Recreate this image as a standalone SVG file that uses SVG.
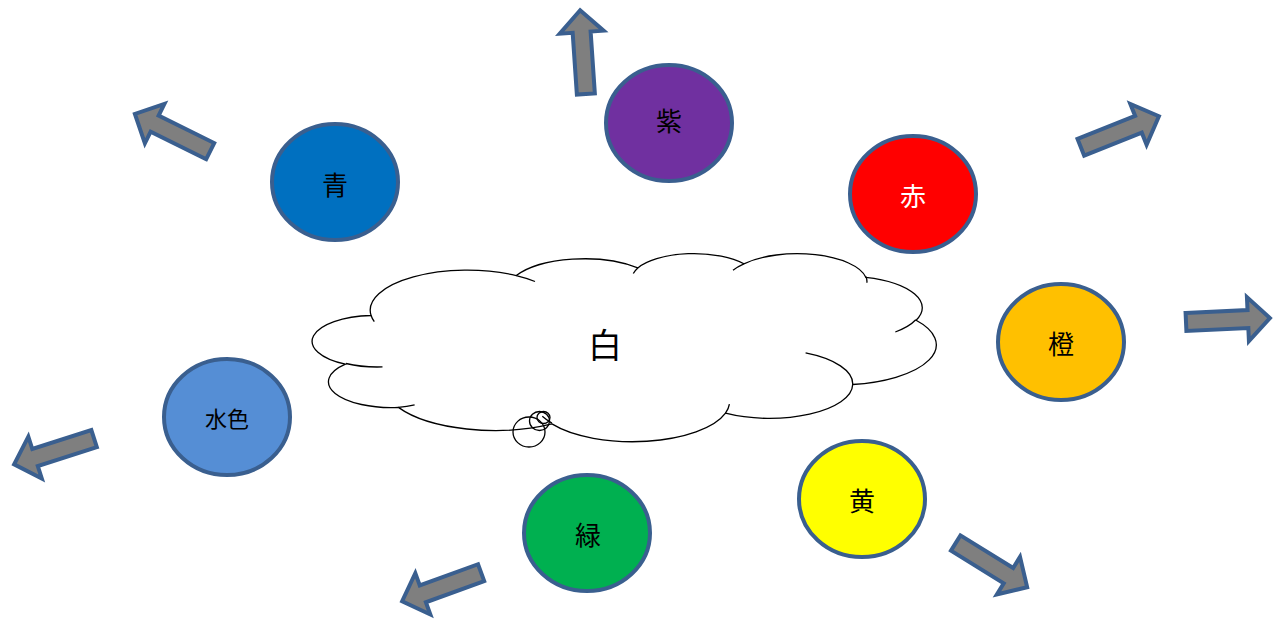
<svg xmlns="http://www.w3.org/2000/svg" width="1280" height="620" viewBox="0 0 1280 620">
<style>
.node ellipse{stroke:#3A5F8F;stroke-width:4}
.lbl{font-family:"Noto Sans CJK JP","Noto Sans CJK SC",sans-serif;font-size:26px;text-anchor:middle;dominant-baseline:central;fill:#000}
.arrow{fill:#7F7F7F;stroke:#3A5F8F;stroke-width:4;stroke-linejoin:miter}
.cloud{fill:#fff;stroke:#000;stroke-width:1.3}
.cloudline{fill:none;stroke:#000;stroke-width:1.3}
</style>
<defs>
<path id="blk" d="M2,-9 H64 V-22 L86,0 L64,22 V9 H2 Z"/>
</defs>
<rect width="1280" height="620" fill="#fff"/>
<g id="arrows">
<use href="#blk" class="arrow" transform="translate(212,152) rotate(206.3)"/>
<use href="#blk" class="arrow" transform="translate(586,96) rotate(-93.9)"/>
<use href="#blk" class="arrow" transform="translate(1079,148) rotate(-21.7)"/>
<use href="#blk" class="arrow" transform="translate(1184,322) rotate(-2.6)"/>
<use href="#blk" class="arrow" transform="translate(954,542) rotate(31.7)"/>
<use href="#blk" class="arrow" transform="translate(483,572) rotate(160.1)"/>
<use href="#blk" class="arrow" transform="translate(96,438) rotate(162.2)"/>
</g>
<g id="white">
<path class="cloud" d="M371.1,315.5 A97.07,40 0 0 1 516.3,275.6 A76.66,31.63 0 0 1 637.8,267.9 A62.75,25.87 0 0 1 743.9,263.8 A69.82,28.7 0 0 1 865.8,277.3 A76.66,31.65 0 0 1 916.1,320.3 A97.39,40.13 0 0 1 852.7,384.5 A83.16,34.24 0 0 1 725.5,413.2 A97.06,40.1 0 0 1 551.9,423.9 A110.98,45.88 0 0 1 398.4,407.4 A62.68,25.76 0 0 1 345.4,364.2 A62.46,25.87 0 0 1 371.1,315.5 Z"/>
<path class="cloudline" d="M382.5,366.9 A62.46,25.87 0 0 1 346,363.5 M414.6,404.9 A62.68,25.76 0 0 1 398.4,407.4 M551.9,423.1 A97.06,40.1 0 0 1 542.3,416.3 M729.4,404.2 A97.06,40.1 0 0 1 725.5,413.2 M805.6,352.9 A83.16,34.24 0 0 1 852.7,384.5 M915.8,319.8 A76.66,31.65 0 0 1 895.3,332 M865.9,276.6 A69.82,28.7 0 0 1 866.9,282.8 M733,270.2 A69.82,28.7 0 0 1 743.9,263.8 M633.3,273.5 A62.75,25.87 0 0 1 637.8,267.9 M516.3,275.6 A97.07,40 0 0 1 535,281.5 M374.3,321.7 A97.07,40 0 0 1 371.1,315.5"/>
<ellipse class="cloudline" cx="529" cy="432" rx="16" ry="15"/>
<ellipse class="cloudline" cx="539.5" cy="421" rx="10" ry="9.5"/>
<ellipse class="cloudline" cx="543.5" cy="417.5" rx="6.5" ry="6"/>
<text class="lbl" x="605" y="343" style="font-size:34px">白</text>
</g>
<g id="blue" class="node"><ellipse cx="335" cy="182" rx="63" ry="58" fill="#0070C0"/><text class="lbl" x="335" y="183">青</text></g>
<g id="purple" class="node"><ellipse cx="669" cy="123" rx="63" ry="58" fill="#7030A0"/><text class="lbl" x="669" y="119">紫</text></g>
<g id="red" class="node"><ellipse cx="913" cy="194" rx="63" ry="58" fill="#FF0000"/><text class="lbl" x="913" y="194" style="fill:#fff">赤</text></g>
<g id="orange" class="node"><ellipse cx="1061" cy="342" rx="63" ry="58" fill="#FFC000"/><text class="lbl" x="1061" y="342">橙</text></g>
<g id="lightblue" class="node"><ellipse cx="227" cy="417" rx="63" ry="58" fill="#558ED5"/><text class="lbl" x="227" y="417" style="font-size:22px">水色</text></g>
<g id="green" class="node"><ellipse cx="587" cy="533" rx="63" ry="58" fill="#00B050"/><text class="lbl" x="588" y="533">緑</text></g>
<g id="yellow" class="node"><ellipse cx="862" cy="499" rx="63" ry="58" fill="#FFFF00"/><text class="lbl" x="862" y="499">黄</text></g>
</svg>
